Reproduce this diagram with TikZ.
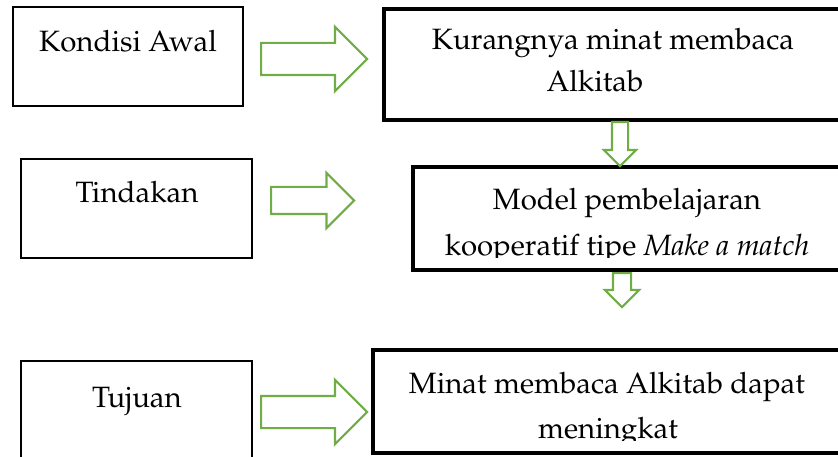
\documentclass[tikz,border=0pt]{standalone}
\usepackage[T1]{fontenc}
\usepackage{mathpazo}
\usepackage{tikz}
\usetikzlibrary{shapes.arrows}
\definecolor{arrowgreen}{HTML}{70AD47}

\tikzset{
  thinbox/.style={draw, line width=2.5pt},
  thickbox/.style={draw, line width=4pt},
  blockarrow/.style={single arrow, draw=arrowgreen, line width=2.2pt, inner xsep=0pt, anchor=tail},
  lbl/.style={anchor=base, inner sep=0pt, font=\fontsize{29.4}{36}\selectfont}
}

\begin{document}
\begin{tikzpicture}[x=1pt, y=-1pt]
  \useasboundingbox (0,0) rectangle (838,457);

  % boxes on the left
  \node[thinbox, minimum width=230, minimum height=99] (awalbox) at (128,56.5) {};
  \node[thinbox, minimum width=231, minimum height=99] (tindakanbox) at (136.5,208.5) {};
  \node[thinbox, minimum width=231, minimum height=109] (tujuanbox) at (136.5,415.5) {};

  % boxes on the right (run off the page)
  \node[thickbox, minimum width=476, minimum height=111] (kurangbox) at (622,64.5) {};
  \node[thickbox, minimum width=447, minimum height=103] (modelbox) at (636.5,218.5) {};
  \node[thickbox, minimum width=487, minimum height=103] (minatbox) at (616.5,401.5) {};

  % green arrows
  \node[blockarrow, minimum height=106, inner ysep=15, single arrow head extend=16] (ar1) at (260,59) {};
  \node[blockarrow, minimum height=83, inner ysep=12.5, single arrow head extend=14] (ar2) at (270,200.5) {};
  \node[blockarrow, minimum height=106, inner ysep=15, single arrow head extend=16] (ar3) at (260,412) {};
  \node[blockarrow, rotate=-90, minimum height=44, inner ysep=7, single arrow head extend=8] (down1) at (620,121) {};
  \node[blockarrow, rotate=-90, minimum height=34, inner ysep=8, single arrow head extend=8] (down2) at (622,272) {};

  % texts
  \node[lbl] (kondisi) at (128,52) {Kondisi Awal};
  \node[lbl] (kurang1) at (613,50) {Kurangnya minat membaca};
  \node[lbl] (kurang2) at (595,92) {Alkitab};
  \node[lbl] (tindakan) at (137,203) {Tindakan};
  \node[lbl] (model1) at (627,210) {Model pembelajaran};
  \node[lbl] (tujuan) at (137,407) {Tujuan};
  \node[lbl] (minat1) at (607,393) {Minat membaca Alkitab dapat};
  \begin{scope}
    \clip (380,225) rectangle (838,257);
    \node[lbl] (model2) at (627,255) {kooperatif tipe \textit{Make a match}};
  \end{scope}
  \begin{scope}
    \clip (380,400) rectangle (838,440);
    \node[lbl] (minat2) at (608,438) {meningkat};
  \end{scope}
\end{tikzpicture}
\end{document}
